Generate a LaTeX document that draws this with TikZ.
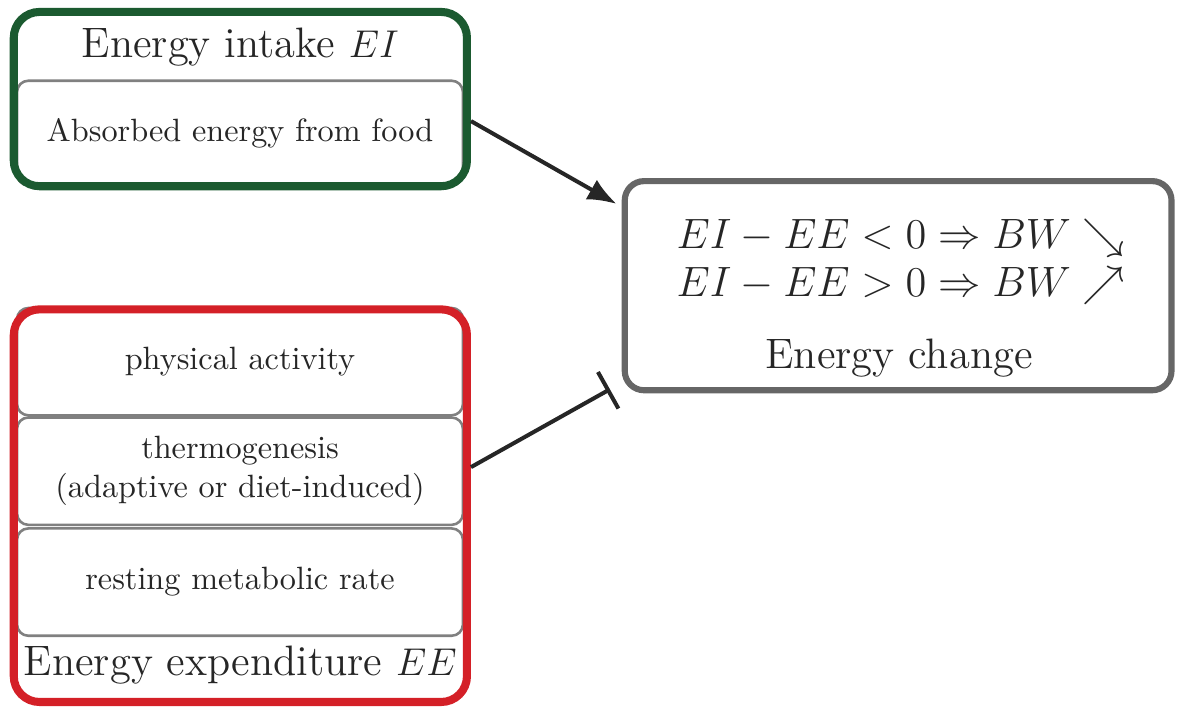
\documentclass[tikz,border=0pt]{standalone}
\usepackage{amssymb,amsmath}
\usetikzlibrary{arrows.meta}
\definecolor{intakegreen}{HTML}{1B5A30}
\definecolor{expendred}{HTML}{D42027}
\definecolor{changegray}{HTML}{666666}
\definecolor{itemgray}{HTML}{808080}
\tikzset{
  item/.style={draw=itemgray,line width=0.8pt,rounded corners=3.5pt,minimum width=4.86cm,align=center,text=black!85},
  frame/.style={line width=2.5pt,rounded corners=8pt,minimum width=4.94cm},
  title/.style={font=\fontsize{13.2}{15.8}\selectfont,text=black!85},
  link/.style={line width=1.25pt,black!85}
}
\newcommand{\bwline}[1]{\scalebox{1.096}{$#1$}}
\begin{document}
\begin{tikzpicture}
    \useasboundingbox (0,0) rectangle (12.83,7.73);
    % intake
    \node[item,minimum height=1.14cm] (food) at (2.616,6.28) {Absorbed energy from food};
    \node[title] (EIlabel) at (2.62,7.216) {Energy intake $EI$};
    \node[frame,draw=intakegreen,minimum height=1.90cm] (intake) at (2.62,6.65) {};
    % expenditure
    \foreach \X/\Y/\T in {1/3.788/physical activity,2/2.594/{thermogenesis\\(adaptive or diet-induced)},3/1.385/resting metabolic rate}
    {\node[item,minimum height=1.17cm] (ee\X) at (2.616,\Y) {\T};}
    \node[title] (EElabel) at (2.62,0.48) {Energy expenditure $EE$};
    \node[frame,draw=expendred,minimum height=4.28cm] (expend) at (2.62,2.218) {};
    % change
    \node[frame,draw=changegray,line width=1.9pt,rounded corners=6pt,minimum width=5.96cm,minimum height=2.28cm] (change) at (9.79,4.616) {};
    \node[title,font=\fontsize{12.8}{14.6}\selectfont,align=center] (balance) at (9.82,4.875) {\bwline{EI-EE<0\Rightarrow BW\searrow}\\\bwline{EI-EE>0\Rightarrow BW\nearrow}};
    \node[title] (EClabel) at (9.80,3.826) {Energy change};
    \draw[link,-{Latex[length=9pt,width=7pt]}] ([yshift=-0.24cm]intake.east) -- ([shift={(-0.055,-0.283)}]change.north west);
    \draw[link,-{Bar[width=13pt]}] ([yshift=0.42cm]expend.east) -- ([shift={(-0.128,0.044)}]change.south west);
\end{tikzpicture}
\end{document}
